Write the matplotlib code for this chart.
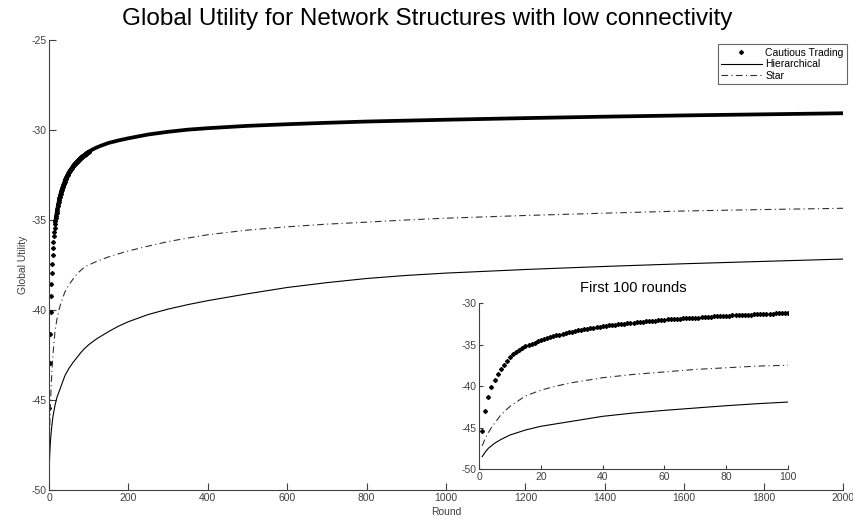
import matplotlib
matplotlib.use("Agg")
from matplotlib import pyplot as plt
from matplotlib.lines import Line2D

plt.rcParams['font.family'] = ['Liberation Sans', 'DejaVu Sans']
plt.rcParams['axes.unicode_minus'] = False

# cautious trading, one value per round for rounds 1..100
early_rounds = list(range(1, 101))
cautious_early = [
    -45.46, -42.97, -41.33, -40.12, -39.24, -38.55, -37.95, -37.43, -36.95, -36.55,
    -36.20, -35.90, -35.65, -35.42, -35.20, -35.04, -34.90, -34.76, -34.63, -34.50,
    -34.37, -34.25, -34.13, -34.01, -33.90, -33.80, -33.71, -33.62, -33.53, -33.45,
    -33.38, -33.31, -33.24, -33.17, -33.11, -33.05, -32.99, -32.93, -32.87, -32.80,
    -32.75, -32.70, -32.65, -32.61, -32.57, -32.52, -32.48, -32.44, -32.40, -32.35,
    -32.32, -32.28, -32.25, -32.21, -32.18, -32.15, -32.12, -32.09, -32.05, -32.00,
    -31.98, -31.96, -31.93, -31.91, -31.89, -31.86, -31.84, -31.82, -31.80, -31.77,
    -31.75, -31.72, -31.70, -31.67, -31.65, -31.62, -31.60, -31.58, -31.55, -31.53,
    -31.51, -31.50, -31.48, -31.46, -31.45, -31.43, -31.41, -31.40, -31.38, -31.37,
    -31.35, -31.33, -31.31, -31.30, -31.28, -31.26, -31.24, -31.23, -31.21, -31.20,
]

# later rounds (main plot only)
tail_rounds = [110, 120, 130, 150, 175, 200, 250, 300, 350, 400, 500, 600, 700,
               800, 900, 1000, 1200, 1400, 1600, 1800, 2000]
cautious_tail = [-31.08, -30.97, -30.88, -30.72, -30.58, -30.46, -30.25, -30.10,
                 -29.98, -29.90, -29.77, -29.68, -29.60, -29.53, -29.48, -29.43,
                 -29.34, -29.26, -29.19, -29.13, -29.07]

# hierarchical and star, sampled rounds
line_rounds = [1, 2, 3, 4, 5, 7, 10, 15, 20, 25, 30, 40, 50, 60, 70, 80, 90, 100,
               120, 150, 175, 200, 250, 300, 350, 400, 500, 600, 700, 800, 900,
               1000, 1200, 1400, 1600, 1800, 2000]
hierarchical = [-48.5, -47.95, -47.5, -47.2, -46.9, -46.45, -45.9, -45.3, -44.85,
                -44.55, -44.25, -43.65, -43.25, -42.93, -42.65, -42.37, -42.13, -41.93,
                -41.6, -41.2, -40.9, -40.65, -40.25, -39.95, -39.7, -39.48, -39.1,
                -38.75, -38.48, -38.25, -38.08, -37.95, -37.75, -37.58, -37.43,
                -37.3, -37.17]
star = [-47.2, -46.3, -45.6, -45.0, -44.5, -43.5, -42.45, -41.2, -40.5,
        -40.0, -39.6, -39.0, -38.6, -38.3, -38.0, -37.8, -37.6, -37.5,
        -37.3, -37.05, -36.88, -36.72, -36.45, -36.2, -36.0, -35.82, -35.56,
        -35.38, -35.23, -35.12, -35.0, -34.9, -34.75, -34.62, -34.5, -34.42, -34.35]
n_inset = line_rounds.index(100) + 1

axis_col = '#404040'
dashdot = (0, (6, 3, 1, 3))


def style_axes(ax, tick_len):
    ax.spines['top'].set_visible(False)
    ax.spines['right'].set_visible(False)
    for s in ('left', 'bottom'):
        ax.spines[s].set_color(axis_col)
        ax.spines[s].set_linewidth(0.8)
    ax.tick_params(direction='in', length=tick_len, width=0.8, colors=axis_col,
                   labelsize=7.5, pad=2)


fig = plt.figure(figsize=(8.54, 5.20), dpi=100)
ax = fig.add_axes([0.0574, 0.0577, 0.9297, 0.8654])

# cautious: individual markers early, merged into a thick band later
ax.plot(early_rounds, cautious_early, linestyle='none', marker='D',
        markersize=2.0, color='black')
ax.plot(early_rounds[14:] + tail_rounds, cautious_early[14:] + cautious_tail,
        color='black', linewidth=2.7, solid_capstyle='butt')
ax.plot(line_rounds, hierarchical, color='black', linewidth=0.8)
ax.plot(line_rounds, star, color='#303030', linewidth=0.8, linestyle=dashdot)

ax.set_xlim(0, 2000)
ax.set_ylim(-50, -25)
ax.set_xticks(range(0, 2001, 200))
ax.set_yticks(range(-50, -24, 5))
style_axes(ax, 5)
ax.set_xlabel('Round', fontsize=7.5, color=axis_col, labelpad=3)
ax.set_ylabel('Global Utility', fontsize=7.5, color=axis_col, labelpad=2)
fig.suptitle('Global Utility for Network Structures with low connectivity',
             fontsize=17.5, y=0.985)

handles = [
    Line2D([], [], linestyle='none', marker='D', markersize=2.0, color='black'),
    Line2D([], [], color='black', linewidth=0.8),
    Line2D([], [], color='#303030', linewidth=0.8, linestyle=dashdot),
]
leg = ax.legend(handles, ['Cautious Trading', 'Hierarchical', 'Star'],
                loc='upper right', bbox_to_anchor=(1.005, 0.99), fontsize=7.5,
                frameon=True, fancybox=False, handlelength=4, handletextpad=0.3,
                labelspacing=0.15, borderpad=0.3, borderaxespad=0)
leg.get_frame().set_edgecolor(axis_col)
leg.get_frame().set_linewidth(0.8)

# inset: first 100 rounds
ins = fig.add_axes([0.561, 0.098, 0.3618, 0.3193])
ins.plot(early_rounds, cautious_early, linestyle='none', marker='D',
         markersize=2.0, color='black')
ins.plot(line_rounds[:n_inset], hierarchical[:n_inset], color='black', linewidth=0.8)
ins.plot(line_rounds[:n_inset], star[:n_inset], color='#303030', linewidth=0.8,
         linestyle=dashdot)
ins.set_xlim(0, 100)
ins.set_ylim(-50, -30)
ins.set_xticks(range(0, 101, 20))
ins.set_yticks(range(-50, -29, 5))
style_axes(ins, 3)
ins.set_title('First 100 rounds', fontsize=10.5, pad=8)

fig.savefig('out.png', dpi=100)
